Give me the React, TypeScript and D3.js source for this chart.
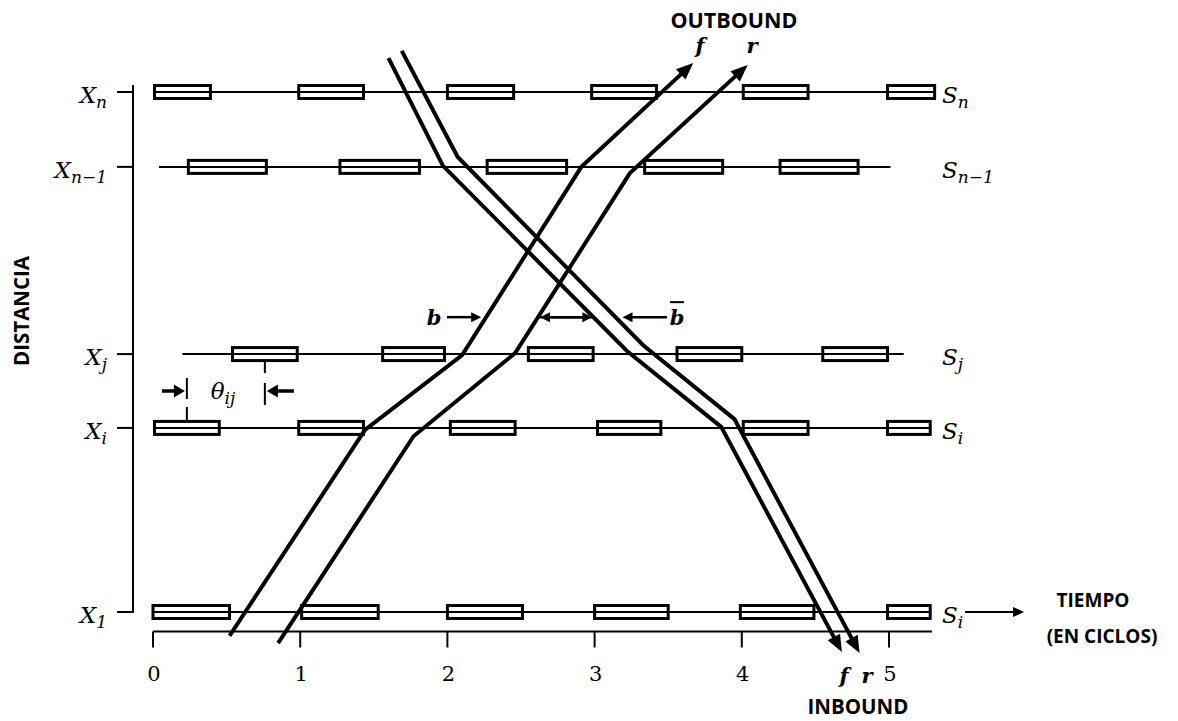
import React from "react";
import * as d3 from "d3";

// Time axis, in signal cycles
const cycleTicks = [0, 1, 2, 3, 4, 5];

// Intersections along the arterial (distance from the first one)
const rowSubs = ["n", "n\u22121", "j", "i", "1"];
const rowSignalSubs = ["n", "n\u22121", "j", "i", "i"];
const rowDistances = [100, 85.6, 49.6, 35.4, 0];
// extent of each signal timeline, in cycles
const rowSpans: [number, number][] = [
  [0.01, 5.31],
  [0.04, 5.01],
  [0.2, 5.1],
  [0, 5.28],
  [0, 5.28],
];

// Red intervals at each intersection, [start, end] in cycles
const redXn: [number, number][] = [[0.01, 0.39], [0.99, 1.43], [2.0, 2.45], [2.98, 3.42], [4.01, 4.45], [4.99, 5.31]];
const redXn1: [number, number][] = [[0.24, 0.77], [1.27, 1.81], [2.27, 2.81], [3.34, 3.87], [4.26, 4.79]];
const redXj: [number, number][] = [[0.54, 0.98], [1.56, 1.98], [2.55, 2.99], [3.56, 4.0], [4.55, 4.99]];
const redXi: [number, number][] = [[0.01, 0.45], [0.99, 1.43], [2.02, 2.46], [3.02, 3.45], [4.01, 4.45], [4.99, 5.28]];
const redX1: [number, number][] = [[0, 0.52], [1.01, 1.53], [2.0, 2.51], [3.0, 3.5], [3.99, 4.49], [4.99, 5.28]];

// Progression band edges, [cycle, distance]
const outboundFront: [number, number][] = [[0.52, -4.6], [1.44, 35.0], [2.1, 49.4], [2.91, 85.6], [3.67, 105.6]];
const outboundRear: [number, number][] = [[0.85, -6.0], [1.77, 33.8], [2.46, 49.8], [3.24, 84.4], [4.04, 105.2]];
const inboundFront: [number, number][] = [[1.6, 106.5], [1.97, 85.8], [3.22, 50.2], [3.86, 35.6], [4.68, -7.7]];
const inboundRear: [number, number][] = [[1.69, 107.9], [2.07, 87.5], [3.33, 51.3], [3.95, 37.1], [4.8, -7.9]];

// Distance at which the bandwidth b / b̄ is marked
const bandwidthLevel = 56.7;

const MATH = "'DejaVu Serif', serif";
const SANS = "'Open Sans', sans-serif";

// cycle at which a polyline reaches a given distance
function cycleAt(pts: [number, number][], d: number): number {
  for (let k = 0; k < pts.length - 1; k++) {
    const [t0, d0] = pts[k];
    const [t1, d1] = pts[k + 1];
    if ((d - d0) * (d - d1) <= 0 && d0 !== d1) {
      return t0 + ((d - d0) / (d1 - d0)) * (t1 - t0);
    }
  }
  return pts[0][0];
}

export default function App() {
  const x = d3.scaleLinear().domain([0, 5]).range([153, 889]);
  const y = d3.scaleLinear().domain([0, 100]).range([612, 92]);
  const redIntervals = [redXn, redXn1, redXj, redXi, redX1];

  const axisY = y(0) + 19.5;
  const axisX = x(0) - 20;
  const axisRight = 932;

  // band edge with an arrowhead at its last point
  const bandEdge = (pts: [number, number][], key: string) => {
    const px = pts.map(([t, d]) => [x(t), y(d)] as [number, number]);
    const [ax, ay] = px[px.length - 2];
    const [bx, by] = px[px.length - 1];
    const L = Math.hypot(bx - ax, by - ay);
    const ux = (bx - ax) / L;
    const uy = (by - ay) / L;
    const len = 17;
    const half = 7;
    const baseX = bx - ux * len;
    const baseY = by - uy * len;
    const shaft = px.slice(0, -1).concat([[baseX + ux * 2, baseY + uy * 2]]);
    const head = [
      [bx, by],
      [baseX - uy * half, baseY + ux * half],
      [baseX + uy * half, baseY - ux * half],
    ];
    return (
      <g key={key}>
        <path d={d3.line()(shaft) ?? ""} fill="none" stroke="#000" strokeWidth={4} strokeLinejoin="miter" />
        <path d={d3.line()(head as [number, number][]) + "Z"} fill="#000" />
      </g>
    );
  };

  // thin arrow with filled head; tip at (x2,y2)
  const arrow = (x1: number, y1: number, x2: number, y2: number, w: number, len: number, half: number, key: string) => {
    const L = Math.hypot(x2 - x1, y2 - y1);
    const ux = (x2 - x1) / L;
    const uy = (y2 - y1) / L;
    const bx = x2 - ux * len;
    const by = y2 - uy * len;
    return (
      <g key={key}>
        <line x1={x1} y1={y1} x2={bx + ux} y2={by + uy} stroke="#000" strokeWidth={w} />
        <path d={`M${x2},${y2}L${bx - uy * half},${by + ux * half}L${bx + uy * half},${by - ux * half}Z`} fill="#000" />
      </g>
    );
  };

  // bandwidth markers
  const by = y(bandwidthLevel);
  const tOF = x(cycleAt(outboundFront, bandwidthLevel));
  const tOR = x(cycleAt(outboundRear, bandwidthLevel));
  const tIF = x(cycleAt(inboundFront, bandwidthLevel));
  const tIR = x(cycleAt(inboundRear, bandwidthLevel));

  // offset θij between the first red midpoints at Xi and Xj
  const yi = y(rowDistances[3]);
  const yj = y(rowDistances[2]);
  const thL = x((redXi[0][0] + redXi[0][1]) / 2);
  const thR = x((redXj[0][0] + redXj[0][1]) / 2);
  const thY = (yi + yj) / 2;

  return (
    <div style={{ position: "absolute", left: 0, top: 0 }}>
      <svg width={1178} height={721} style={{ display: "block", background: "#fff" }}>
        {/* distance axis */}
        <line x1={axisX} y1={85} x2={axisX} y2={y(0) + 1} stroke="#000" strokeWidth={2} />
        {rowDistances.map((d, k) => (
          <line key={"yt" + k} x1={axisX - 16} y1={y(d)} x2={axisX} y2={y(d)} stroke="#000" strokeWidth={2} />
        ))}
        {rowDistances.map((d, k) => (
          <text key={"yl" + k} x={107} y={y(d) + 11} textAnchor="end" fontFamily={MATH} fontStyle="italic" fontSize={23}>
            X
            <tspan fontSize={17} dy={5}>{rowSubs[k]}</tspan>
          </text>
        ))}
        <text
          transform={`translate(29,${311}) rotate(-90)`}
          textAnchor="middle"
          fontFamily={SANS}
          fontWeight={700}
          fontSize={20.5}
        >
          DISTANCIA
        </text>

        {/* time axis */}
        <line x1={x(0)} y1={axisY} x2={axisRight} y2={axisY} stroke="#000" strokeWidth={2} />
        {cycleTicks.map((t) => (
          <g key={"xt" + t}>
            <line x1={x(t)} y1={axisY} x2={x(t)} y2={axisY + 16} stroke="#000" strokeWidth={2} />
            <text x={x(t) + 1} y={681} textAnchor="middle" fontFamily={MATH} fontSize={21}>
              {t}
            </text>
          </g>
        ))}

        {/* signal timelines with red intervals */}
        {rowDistances.map((d, k) => (
          <g key={"row" + k}>
            <line x1={x(rowSpans[k][0])} y1={y(d)} x2={x(rowSpans[k][1])} y2={y(d)} stroke="#000" strokeWidth={2} />
            {redIntervals[k].map(([a, b], m) => (
              <rect
                key={m}
                x={x(a)}
                y={y(d) - 6.5}
                width={x(b) - x(a)}
                height={13}
                fill="none"
                stroke="#000"
                strokeWidth={3}
              />
            ))}
            <text x={942} y={y(d) + 11} fontFamily={MATH} fontStyle="italic" fontSize={23}>
              S
              <tspan fontSize={17} dy={5}>{rowSignalSubs[k]}</tspan>
            </text>
          </g>
        ))}
        {arrow(965, y(0), 1024, y(0), 2, 11, 5, "time-arrow")}
        <text x={1093} y={607} textAnchor="middle" fontFamily={SANS} fontWeight={700} fontSize={19}>
          TIEMPO
        </text>
        <text x={1102} y={643} textAnchor="middle" fontFamily={SANS} fontWeight={700} fontSize={19}>
          (EN CICLOS)
        </text>

        {/* offset θij */}
        <line x1={thL} y1={yi - 7} x2={thL} y2={yi - 21} stroke="#000" strokeWidth={2} />
        <line x1={thL} y1={thY - 13} x2={thL} y2={thY + 8} stroke="#000" strokeWidth={2} />
        <line x1={thR} y1={yj + 7} x2={thR} y2={yj + 19} stroke="#000" strokeWidth={2} />
        <line x1={thR} y1={thY - 8} x2={thR} y2={thY + 14} stroke="#000" strokeWidth={2} />
        {arrow(thL - 25, thY, thL - 2, thY, 3.5, 11, 6.5, "th-l")}
        {arrow(thR + 29, thY, thR + 2, thY, 3.5, 11, 6.5, "th-r")}
        <text x={223} y={thY + 8} textAnchor="middle" fontFamily={MATH} fontStyle="italic" fontSize={23}>
          θ
          <tspan fontSize={17} dy={5}>ij</tspan>
        </text>

        {/* progression bands */}
        {bandEdge(outboundFront, "of")}
        {bandEdge(outboundRear, "or")}
        {bandEdge(inboundFront, "if")}
        {bandEdge(inboundRear, "ir")}

        {/* bandwidth b and b̄ */}
        <text x={434} y={by + 8} textAnchor="middle" fontFamily={MATH} fontStyle="italic" fontWeight={700} fontSize={21}>
          b
        </text>
        {arrow(447, by, tOF - 5, by, 2.5, 10, 5, "b-arrow")}
        {arrow(tIF - 1, by, tOR + 2, by, 2.5, 10, 5, "bb-l")}
        {arrow(tOR + 2, by, tIF - 1, by, 2.5, 10, 5, "bb-r")}
        {arrow(667, by, tIR + 7, by, 2.5, 10, 5, "bbar-arrow")}
        <text x={677} y={by + 8} textAnchor="middle" fontFamily={MATH} fontStyle="italic" fontWeight={700} fontSize={21}>
          b
        </text>
        <line x1={670} y1={by - 15} x2={684} y2={by - 15} stroke="#000" strokeWidth={2} />

        {/* direction labels */}
        <text x={734} y={28} textAnchor="middle" fontFamily={SANS} fontWeight={700} fontSize={21.5}>
          OUTBOUND
        </text>
        <text x={700} y={53} textAnchor="middle" fontFamily={MATH} fontStyle="italic" fontWeight={700} fontSize={21}>
          f
        </text>
        <text x={752} y={53} textAnchor="middle" fontFamily={MATH} fontStyle="italic" fontWeight={700} fontSize={21}>
          r
        </text>
        <text x={844} y={683} textAnchor="middle" fontFamily={MATH} fontStyle="italic" fontWeight={700} fontSize={21}>
          f
        </text>
        <text x={867} y={683} textAnchor="middle" fontFamily={MATH} fontStyle="italic" fontWeight={700} fontSize={21}>
          r
        </text>
        <text x={858} y={714} textAnchor="middle" fontFamily={SANS} fontWeight={700} fontSize={20.5}>
          INBOUND
        </text>
      </svg>
    </div>
  );
}
